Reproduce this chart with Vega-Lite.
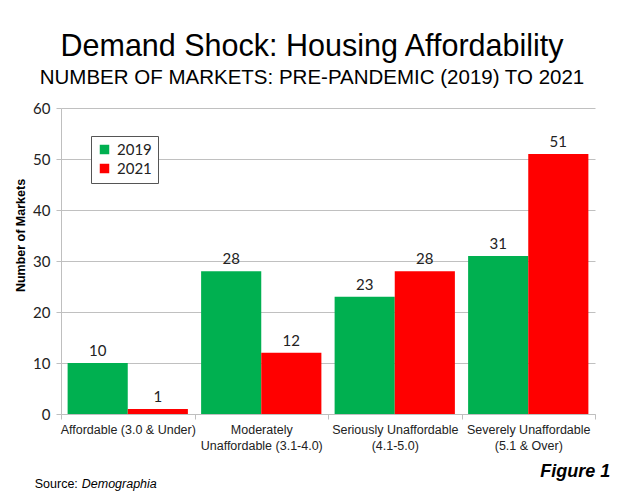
{
  "$schema": "https://vega.github.io/schema/vega-lite/v6.json",
  "width": 534,
  "height": 306,
  "autosize": {"type": "none"},
  "padding": {"left": 61, "top": 108, "right": 26, "bottom": 83},
  "background": "white",
  "title": {
    "text": "Demand Shock: Housing Affordability",
    "subtitle": "NUMBER OF MARKETS: PRE-PANDEMIC (2019) TO 2021",
    "font": "Liberation Sans",
    "fontSize": 30.5,
    "fontWeight": "normal",
    "color": "black",
    "subtitleFont": "Liberation Sans",
    "subtitleFontSize": 20.5,
    "subtitleColor": "black",
    "subtitlePadding": 5,
    "anchor": "middle",
    "frame": "group",
    "dx": -16,
    "offset": 13
  },
  "datasets": {
    "markets": [
      {"category": "Affordable (3.0 & Under)", "year": "2019", "value": 10},
      {"category": "Affordable (3.0 & Under)", "year": "2021", "value": 1},
      {"category": "Moderately|Unaffordable (3.1-4.0)", "year": "2019", "value": 28},
      {"category": "Moderately|Unaffordable (3.1-4.0)", "year": "2021", "value": 12},
      {"category": "Seriously Unaffordable|(4.1-5.0)", "year": "2019", "value": 23},
      {"category": "Seriously Unaffordable|(4.1-5.0)", "year": "2021", "value": 28},
      {"category": "Severely Unaffordable|(5.1 & Over)", "year": "2019", "value": 31},
      {"category": "Severely Unaffordable|(5.1 & Over)", "year": "2021", "value": 51}
    ],
    "source": [{"label": "Source:", "category": "Affordable (3.0 & Under)", "value": -13.7}],
    "sourceName": [{"label": "Demographia", "category": "Affordable (3.0 & Under)", "value": -13.7}],
    "figure": [{"label": "Figure 1", "category": "Severely Unaffordable|(5.1 & Over)", "value": -11.4}]
  },
  "layer": [
    {
      "data": {"name": "markets"},
      "mark": {"type": "bar"},
      "encoding": {
        "x": {
          "field": "category",
          "type": "nominal",
          "sort": null,
          "scale": {"paddingInner": 0, "paddingOuter": 0},
          "axis": {
            "title": null,
            "labelAngle": 0,
            "labelExpr": "split(datum.label, '|')",
            "labelFont": "Liberation Sans",
            "labelFontSize": 12.5,
            "labelColor": "#222222",
            "labelLineHeight": 16,
            "labelPadding": 4,
            "tickBand": "extent",
            "tickColor": "#bfbfbf",
            "tickSize": 5,
            "domainColor": "#bfbfbf",
            "grid": false
          }
        },
        "y": {
          "field": "value",
          "type": "quantitative",
          "scale": {"domain": [0, 60], "nice": false, "zero": true},
          "axis": {
            "title": "Number of Markets",
            "titleFont": "Liberation Sans",
            "titleFontSize": 12.5,
            "titleFontWeight": "bold",
            "titleColor": "black",
            "titleX": -41,
            "titleY": 127,
            "titleAlign": "center",
            "titleBaseline": "middle",
            "values": [0, 10, 20, 30, 40, 50, 60],
            "labelFont": "Lato",
            "labelFontSize": 15,
            "labelColor": "#222222",
            "labelPadding": 6,
            "tickColor": "#bfbfbf",
            "tickSize": 5,
            "domainColor": "#bfbfbf",
            "gridColor": "#c0c0c0",
            "gridWidth": 1
          }
        },
        "xOffset": {"field": "year", "type": "nominal", "scale": {"paddingInner": 0, "paddingOuter": 0.11}},
        "color": {
          "field": "year",
          "type": "nominal",
          "scale": {"domain": ["2019", "2021"], "range": ["#00b050", "#ff0000"]},
          "legend": {
            "title": null,
            "orient": "none",
            "legendX": 30,
            "legendY": 28,
            "symbolType": "square",
            "symbolSize": 90,
            "symbolStrokeWidth": 0,
            "labelFont": "Lato",
            "labelFontSize": 15,
            "labelColor": "#222222",
            "labelOffset": 5,
            "rowPadding": 3,
            "padding": 6,
            "strokeColor": "#555555",
            "fillColor": "white"
          }
        }
      }
    },
    {
      "data": {"name": "markets"},
      "mark": {"type": "text", "baseline": "bottom", "dy": -4, "font": "Lato", "fontSize": 15, "color": "#222222"},
      "encoding": {
        "x": {"field": "category", "type": "nominal", "sort": null},
        "y": {"field": "value", "type": "quantitative"},
        "xOffset": {"field": "year", "type": "nominal"},
        "text": {"field": "value", "type": "quantitative"}
      }
    },
    {
      "data": {"name": "source"},
      "mark": {"type": "text", "align": "left", "baseline": "middle", "dx": -93, "font": "Liberation Sans", "fontSize": 12.5, "color": "black"},
      "encoding": {
        "x": {"field": "category", "type": "nominal", "sort": null},
        "y": {"field": "value", "type": "quantitative"},
        "text": {"field": "label", "type": "nominal"}
      }
    },
    {
      "data": {"name": "sourceName"},
      "mark": {"type": "text", "align": "left", "baseline": "middle", "dx": -46, "font": "Liberation Sans", "fontSize": 12.5, "fontStyle": "italic", "color": "black"},
      "encoding": {
        "x": {"field": "category", "type": "nominal", "sort": null},
        "y": {"field": "value", "type": "quantitative"},
        "text": {"field": "label", "type": "nominal"}
      }
    },
    {
      "data": {"name": "figure"},
      "mark": {"type": "text", "align": "right", "baseline": "middle", "dx": 82, "font": "Liberation Sans", "fontSize": 18, "fontStyle": "italic", "fontWeight": "bold", "color": "black"},
      "encoding": {
        "x": {"field": "category", "type": "nominal", "sort": null},
        "y": {"field": "value", "type": "quantitative"},
        "text": {"field": "label", "type": "nominal"}
      }
    }
  ],
  "config": {
    "view": {"stroke": null}
  }
}
